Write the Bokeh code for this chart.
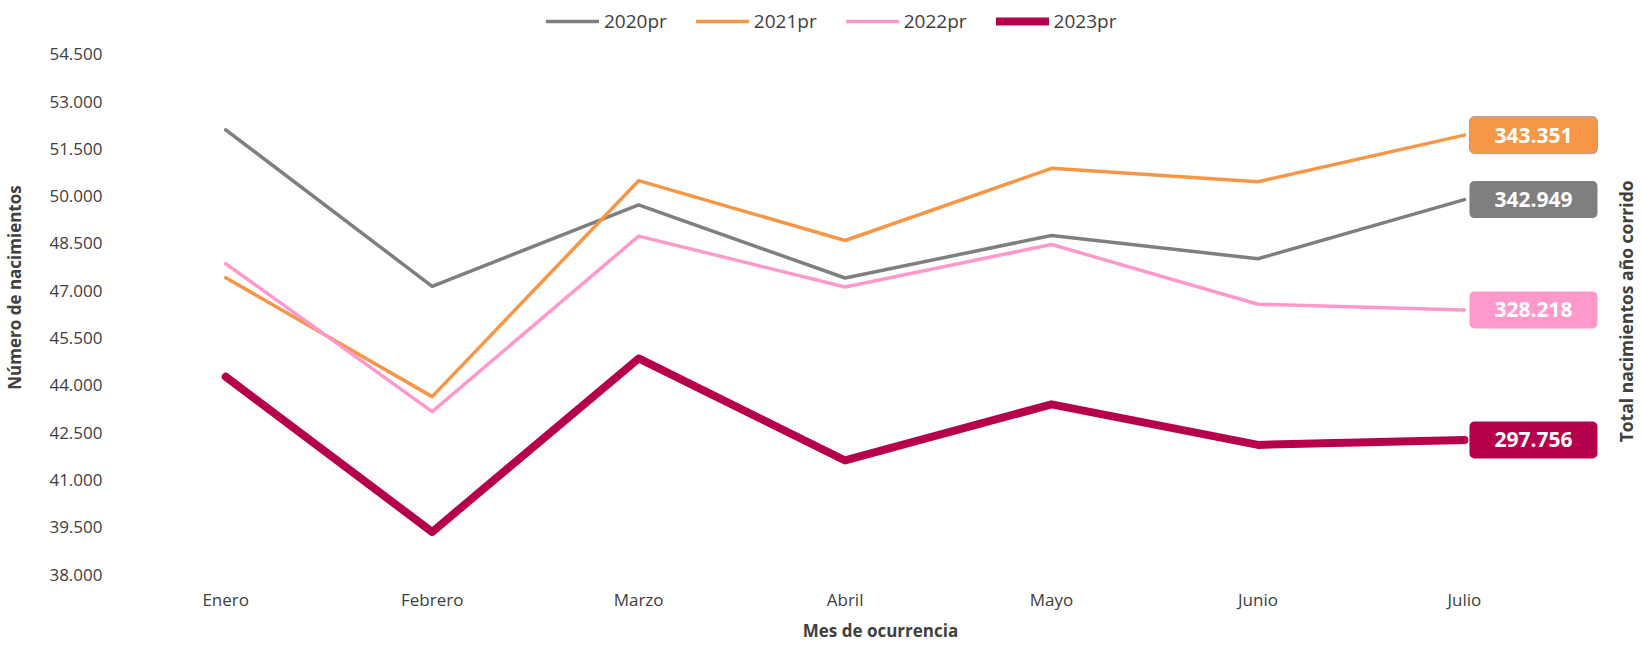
import math
from bokeh.plotting import figure
from bokeh.models import Range1d, FixedTicker, Legend, LegendItem, Label
from bokeh.embed import file_html
from bokeh.resources import INLINE

# ---- data ----
months = ["Enero", "Febrero", "Marzo", "Abril", "Mayo", "Junio", "Julio"]
series_names = ["2020pr", "2021pr", "2022pr", "2023pr"]
v2020 = [52105, 47140, 49724, 47405, 48753, 48016, 49891]
v2021 = [47415, 43642, 50492, 48595, 50884, 50460, 51937]
v2022 = [47858, 43167, 48734, 47120, 48468, 46571, 46393]
v2023 = [44274, 39350, 44853, 41617, 43398, 42111, 42269]
totals = ["342.949", "343.351", "328.218", "297.756"]
y_ticks = [38000, 39500, 41000, 42500, 44000, 45500, 47000, 48500, 50000, 51500, 53000, 54500]
y_tick_labels = ["38.000", "39.500", "41.000", "42.500", "44.000", "45.500",
                 "47.000", "48.500", "50.000", "51.500", "53.000", "54.500"]

colors = ["#7F7F7F", "#F79646", "#FF99CC", "#B7004B"]
widths = [3.5, 3.5, 3.5, 8]
FONT = "Open Sans"
TXT = "#404040"

xs = list(range(len(months)))

W, H = 1638, 644
BL, BB = 121, 68
frame_h = H - BB

p = figure(width=W, height=H, output_backend="svg", toolbar_location=None,
           x_range=Range1d(-0.5, 6.843), y_range=Range1d(38000, 56207),
           min_border_left=BL, min_border_right=0, min_border_top=0, min_border_bottom=BB)
p.outline_line_color = None
p.grid.grid_line_color = None

series = [v2020, v2021, v2022, v2023]
renderers = []
for name, vals, c, w in zip(series_names, series, colors, widths):
    r = p.line(xs, vals, line_color=c, line_width=w, line_cap="round", line_join="round")
    renderers.append(r)

# axes
p.xaxis.ticker = FixedTicker(ticks=xs)
p.xaxis.major_label_overrides = {i: m for i, m in zip(xs, months)}
p.yaxis.ticker = FixedTicker(ticks=y_ticks)
p.yaxis.major_label_overrides = {t: l for t, l in zip(y_ticks, y_tick_labels)}
for ax in (p.xaxis[0], p.yaxis[0]):
    ax.axis_line_color = None
    ax.major_tick_line_color = None
    ax.minor_tick_line_color = None
    ax.major_tick_out = 0
    ax.major_label_text_font = FONT
    ax.major_label_text_font_size = "17px"
    ax.major_label_text_color = TXT
    ax.axis_label_text_font = FONT
    ax.axis_label_text_font_style = "bold"
    ax.axis_label_text_font_size = "17px"
    ax.axis_label_text_color = TXT
p.xaxis.major_label_standoff = 13
p.xaxis.axis_label = "Mes de ocurrencia"
p.xaxis.axis_label_standoff = 5
p.yaxis.major_label_standoff = 20
p.yaxis.axis_label = "Número de nacimientos"
p.yaxis.axis_label_standoff = 20

# right axis title
p.add_layout(Label(x=len(months) - 0.5, y=46345, x_offset=58, angle=math.pi / 2,
                   text="Total nacimientos año corrido",
                   text_font=FONT, text_font_style="bold", text_font_size="17.5px",
                   text_color=TXT, text_align="center", text_baseline="middle"))

# total labels
borders = [None, "#A99BC2", None, None]
for vals, c, t, b in zip(series, colors, totals, borders):
    p.add_layout(Label(x=xs[-1], y=vals[-1], x_offset=5, text=t,
                       text_font=FONT, text_font_style="bold", text_font_size="21px",
                       text_color="white", text_align="left", text_baseline="middle",
                       background_fill_color=c, border_line_color=b, border_line_width=1,
                       padding=dict(left=25, right=25, top=11, bottom=11), border_radius=5))

legend = Legend(items=[LegendItem(label=n, renderers=[r]) for n, r in zip(series_names, renderers)],
                orientation="horizontal", location=(424, frame_h - 36),
                label_text_font=FONT, label_text_font_size="19px", label_text_color=TXT,
                glyph_width=53, glyph_height=24, label_height=24, label_standoff=5, spacing=29,
                padding=0, margin=0, border_line_color=None, background_fill_alpha=0)
p.add_layout(legend, "center")

open("out.html", "w").write(file_html(p, INLINE))
